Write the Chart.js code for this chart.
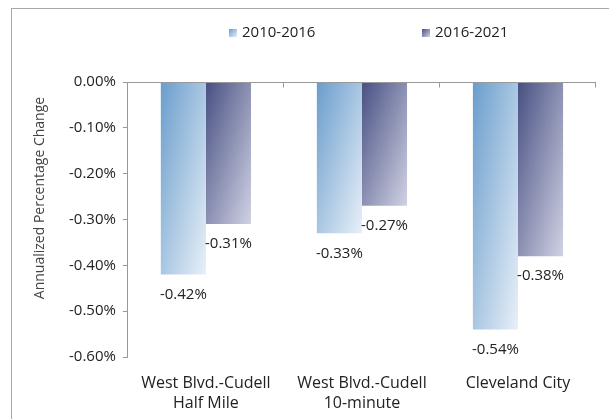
<!DOCTYPE html>
<html>
<head>
<meta charset="utf-8">
<script src="https://cdn.jsdelivr.net/npm/chart.js@4"></script>
<style>
  html, body { margin: 0; padding: 0; background: #fff; overflow: hidden; }
  #wrap { width: 609px; height: 419px; position: relative; }
</style>
</head>
<body>
<div id="wrap"><canvas id="myChart" width="609" height="419"></canvas></div>
<script>
// data
const categorias = [["West Blvd.-Cudell", "Half Mile"], ["West Blvd.-Cudell", "10-minute"], ["Cleveland City"]]
const serie1 = [-0.42, -0.33, -0.54]
const serie2 = [-0.31, -0.27, -0.38]
const nombresSeries = ["2010-2016", "2016-2021"]
const ticksY = [0, -0.1, -0.2, -0.3, -0.4, -0.5, -0.6]
const tituloY = "Annualized Percentage Change"

const colores = [
  { oscuro: "#6a9dcc", claro: "#e8f0f8", medio: "#8fb6dc" },
  { oscuro: "#485082", claro: "#d0d2e4", medio: "#6c7399" }
]

const catPct = 0.578
const fuente = "'Open Sans', 'DejaVu Sans', sans-serif"

// diagonal gradient stretched over the box (like office "scale with shape")
const gradienteCaja = (c, x0, y0, w, h, desde, hasta) => {
  const k = 2 / (1 / (w * w) + 1 / (h * h))
  const g = c.createLinearGradient(x0, y0, x0 + k / w, y0 + k / h)
  g.addColorStop(0, desde)
  g.addColorStop(1, hasta)
  return g
}

// gradient per bar, built from the scales
const degradado = (dsIndex) => (context) => {
  const chart = context.chart
  const area = chart.chartArea
  const x = chart.scales.x
  const y = chart.scales.y
  if (!area || !x || !y || context.dataIndex === undefined) return colores[dsIndex].medio
  const valor = context.dataset.data[context.dataIndex]
  const anchoCat = area.width / categorias.length
  const anchoBarra = anchoCat * catPct / 2
  const centro = x.getPixelForValue(context.dataIndex)
  const izq = centro - anchoCat * catPct / 2 + dsIndex * anchoBarra
  const arriba = y.getPixelForValue(0)
  const abajo = y.getPixelForValue(valor)
  return gradienteCaja(chart.ctx, izq, arriba, anchoBarra, abajo - arriba, colores[dsIndex].oscuro, colores[dsIndex].claro)
}

const etiquetasPlugin = {
  id: "etiquetas",
  afterDatasetsDraw(chart) {
    const ctx = chart.ctx
    ctx.save()
    ctx.font = "15px " + fuente
    ctx.fillStyle = "#222"
    ctx.textAlign = "center"
    ctx.textBaseline = "middle"
    chart.data.datasets.forEach((ds, i) => {
      chart.getDatasetMeta(i).data.forEach((bar, j) => {
        ctx.fillText(ds.data[j].toFixed(2) + "%", bar.x, bar.y + 20)
      })
    })
    ctx.restore()
  }
}

// legend and axis title drawn by hand so the spacing matches
const leyendaPlugin = {
  id: "leyenda",
  afterDraw(chart) {
    const ctx = chart.ctx
    const posiciones = [229, 422]
    ctx.save()
    ctx.font = "15px " + fuente
    ctx.textBaseline = "middle"
    ctx.textAlign = "left"
    nombresSeries.forEach((nombre, i) => {
      ctx.fillStyle = gradienteCaja(ctx, posiciones[i], 29, 8, 8, colores[i].oscuro, colores[i].claro)
      ctx.fillRect(posiciones[i], 29, 8, 8)
      ctx.fillStyle = "#222"
      ctx.fillText(nombre, posiciones[i] + 13, 33)
    })
    ctx.translate(40, 198)
    ctx.rotate(-Math.PI / 2)
    ctx.font = "14px " + fuente
    ctx.fillStyle = "#444"
    ctx.textAlign = "center"
    ctx.fillText(tituloY, 0, 0)
    ctx.restore()
  }
}

const marcoPlugin = {
  id: "marco",
  beforeDraw(chart) {
    const ctx = chart.ctx
    ctx.save()
    ctx.strokeStyle = "#a8a8a8"
    ctx.lineWidth = 1
    ctx.strokeRect(11.5, 8.5, 700, 500)
    ctx.restore()
  },
  afterDatasetsDraw(chart) {
    // zero line with category separator ticks hanging from it
    const ctx = chart.ctx
    const x = chart.scales.x
    const y0 = Math.round(chart.scales.y.getPixelForValue(0)) + 0.5
    ctx.save()
    ctx.strokeStyle = "#999"
    ctx.lineWidth = 1
    ctx.beginPath()
    ctx.moveTo(chart.chartArea.left, y0)
    ctx.lineTo(chart.chartArea.right, y0)
    for (let i = 1; i <= categorias.length; i++) {
      let px = i < categorias.length
        ? (x.getPixelForValue(i - 1) + x.getPixelForValue(i)) / 2
        : chart.chartArea.right
      px = Math.round(px) - 0.5
      ctx.moveTo(px, y0)
      ctx.lineTo(px, y0 + 5)
    }
    ctx.stroke()
    ctx.restore()
  }
}

const ctx = document.getElementById("myChart").getContext("2d")

const myChart = new Chart(ctx, {
  type: "bar",
  data: {
    labels: categorias,
    datasets: [
      { label: nombresSeries[0], data: serie1, backgroundColor: degradado(0), borderWidth: 0, categoryPercentage: catPct, barPercentage: 1 },
      { label: nombresSeries[1], data: serie2, backgroundColor: degradado(1), borderWidth: 0, categoryPercentage: catPct, barPercentage: 1 }
    ]
  },
  options: {
    responsive: false,
    animation: false,
    layout: { padding: { left: 62, right: 13, top: 82, bottom: -2 } },
    plugins: {
      tooltip: { enabled: false },
      legend: { display: false }
    },
    scales: {
      x: {
        grid: { display: false },
        border: { display: false },
        ticks: { font: { family: fuente, size: 16, lineHeight: 1.25 }, color: "#222", padding: 8 }
      },
      y: {
        min: -0.6,
        max: 0,
        afterBuildTicks: (scale) => { scale.ticks = ticksY.map(v => ({ value: v })) },
        grid: { drawOnChartArea: false, drawTicks: true, tickLength: 5, color: "#999" },
        border: { display: true, color: "#999" },
        ticks: {
          font: { family: fuente, size: 15 },
          color: "#222",
          padding: 7,
          callback: (v) => v.toFixed(2) + "%"
        }
      }
    }
  },
  plugins: [etiquetasPlugin, leyendaPlugin, marcoPlugin]
})
</script>
</body>
</html>
